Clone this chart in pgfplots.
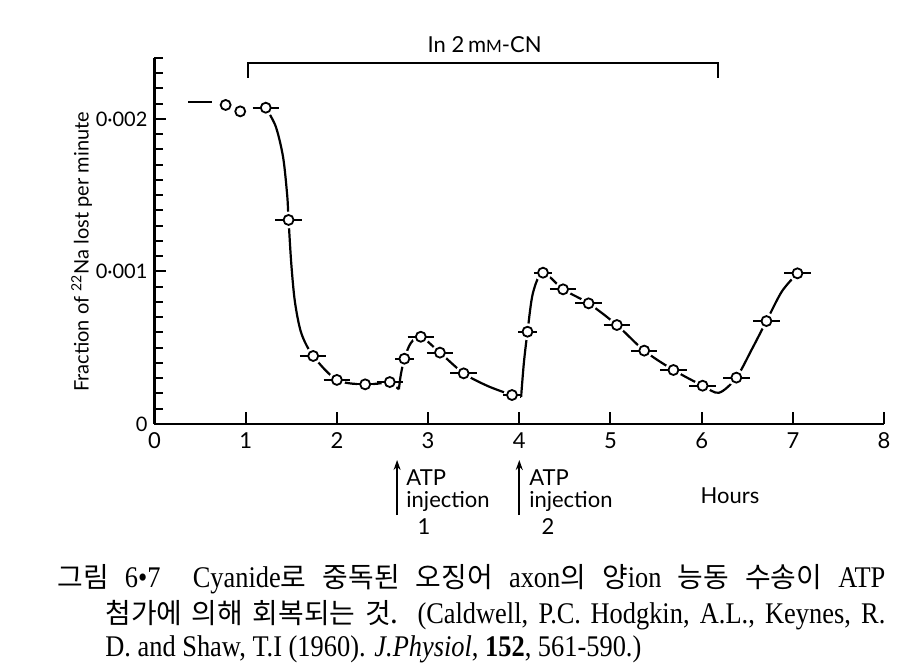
\documentclass[border=0pt]{standalone}
\usepackage{pgfplots}
\pgfplotsset{compat=1.18}
\usepackage{pgfplotstable}
\usepackage{fontspec}
\usetikzlibrary{arrows.meta}
\setmainfont{Lato}
\newfontfamily\kr[Scale=0.93]{Noto Sans CJK KR}
\newfontfamily\capserif[FakeStretch=0.88]{Liberation Serif}
% point marks: white halo (breaks the curve), horizontal bar, open circle
\pgfdeclareplotmark{circnobar}{%
  \pgfpathcircle{\pgfpointorigin}{4.2pt}\pgfsetfillcolor{white}\pgfusepath{fill}%
  \pgfpathcircle{\pgfpointorigin}{2.5pt}\pgfusepath{fill,stroke}}
\pgfdeclareplotmark{circshortbar}{%
  \pgfpathcircle{\pgfpointorigin}{4.2pt}\pgfsetfillcolor{white}\pgfusepath{fill}%
  \pgfpathmoveto{\pgfpoint{-4.6pt}{0pt}}\pgfpathlineto{\pgfpoint{4.6pt}{0pt}}\pgfusepath{stroke}%
  \pgfpathcircle{\pgfpointorigin}{2.5pt}\pgfusepath{fill,stroke}}
\pgfdeclareplotmark{circlongbar}{%
  \pgfpathcircle{\pgfpointorigin}{4.2pt}\pgfsetfillcolor{white}\pgfusepath{fill}%
  \pgfpathmoveto{\pgfpoint{-6.6pt}{0pt}}\pgfpathlineto{\pgfpoint{6.6pt}{0pt}}\pgfusepath{stroke}%
  \pgfpathcircle{\pgfpointorigin}{2.5pt}\pgfusepath{fill,stroke}}
\begin{document}
\pgfplotstableread{
x y
0.78 2.092e-3
0.94 2.050e-3
}\ptsA
\pgfplotstableread{
x y
2.74 0.428e-3
3.92 0.190e-3
4.09 0.605e-3
4.26 0.992e-3
}\ptsB
\pgfplotstableread{
x y
1.22 2.074e-3
1.47 1.338e-3
1.74 0.446e-3
2.00 0.289e-3
2.31 0.260e-3
2.58 0.275e-3
2.92 0.572e-3
3.13 0.468e-3
3.39 0.332e-3
4.48 0.883e-3
4.76 0.791e-3
5.07 0.649e-3
5.37 0.481e-3
5.69 0.354e-3
6.01 0.251e-3
6.38 0.304e-3
6.71 0.675e-3
7.05 0.988e-3
}\ptsC
\begin{tikzpicture}
\path (-77.25pt,-124pt) rectangle (380.75pt,212pt);
\begin{axis}[
  at={(0pt,0pt)}, anchor=south west,
  scale only axis, width=364.8pt, height=183pt,
  xmin=0, xmax=8, ymin=0, ymax=0.0024,
  axis lines*=left,
  axis line style={line width=1.2pt},
  clip=false,
  xtick={0,1,2,3,4,5,6,7,8},
  xticklabels={0,1,2,3,4,5,6,7,8},
  ytick={0,0.001,0.002},
  yticklabels={0,0·001,0·002},
  minor ytick={0.0001,0.0002,0.0003,0.0004,0.0005,0.0006,0.0007,0.0008,0.0009,0.0011,0.0012,0.0013,0.0014,0.0015,0.0016,0.0017,0.0018,0.0019,0.0021,0.0022,0.0023,0.0024},
  scaled y ticks=false,
  tick align=inside,
  major tick length=6pt, minor tick length=4.5pt,
  every tick/.style={line width=1pt, black},
  x tick label style={font=\fontsize{11}{13}\selectfont, yshift=-1pt},
  y tick label style={font=\fontsize{10}{12}\selectfont},
  ylabel={Fraction of \textsuperscript{22}Na lost per minute},
  ylabel style={at={(axis description cs:-0.100,0.47)}, anchor=center, font=\fontsize{10}{12}\selectfont},
  every axis plot/.append style={black},
]
% fitted curve
\addplot[line width=1.1pt] coordinates {(0.37,2.11e-3) (0.63,2.11e-3)};
\addplot[line width=1.1pt, smooth] coordinates {
 (1.22,2.074e-3) (1.33,1.95e-3) (1.41,1.75e-3) (1.455,1.50e-3) (1.47,1.338e-3)
 (1.50,1.05e-3) (1.54,0.80e-3) (1.61,0.595e-3) (1.74,0.446e-3) (2.00,0.289e-3)
 (2.31,0.260e-3) (2.58,0.275e-3)};
\addplot[line width=1.1pt] coordinates {(2.58,0.275e-3) (2.68,0.228e-3)};
\addplot[line width=1.1pt, smooth] coordinates {
 (2.68,0.228e-3) (2.70,0.32e-3) (2.74,0.428e-3) (2.81,0.53e-3) (2.92,0.572e-3)
 (3.13,0.468e-3) (3.39,0.332e-3) (3.65,0.25e-3) (3.92,0.190e-3) (4.02,0.178e-3)};
\addplot[line width=1.1pt, smooth] coordinates {
 (4.02,0.178e-3) (4.05,0.40e-3) (4.09,0.605e-3) (4.15,0.86e-3) (4.26,0.992e-3)
 (4.48,0.883e-3) (4.76,0.791e-3) (5.07,0.649e-3) (5.37,0.481e-3) (5.69,0.354e-3)
 (6.01,0.251e-3) (6.19,0.205e-3) (6.38,0.304e-3) (6.55,0.49e-3) (6.71,0.675e-3)
 (6.88,0.87e-3) (7.05,0.988e-3)};
% measured points
\addplot[only marks, mark=circnobar, mark options={fill=white, draw=black, line width=0.9pt}] table[x=x, y=y] {\ptsA};
\addplot[only marks, mark=circshortbar, mark options={fill=white, draw=black, line width=0.9pt}] table[x=x, y=y] {\ptsB};
\addplot[only marks, mark=circlongbar, mark options={fill=white, draw=black, line width=0.9pt}] table[x=x, y=y] {\ptsC};
% bracket
\draw[line width=1.1pt] (axis cs:1.025,0.002269) -- (axis cs:1.025,0.002367) -- (axis cs:6.18,0.002367) -- (axis cs:6.18,0.002269);
\node[font=\fontsize{11}{13}\selectfont] at (axis cs:3.62,0.00249) {In 2\,m{\fontsize{8.5}{10}\selectfont M}-CN};
% ATP injections
\draw[-{Stealth[length=5pt,width=3.5pt]}, line width=1pt] (axis cs:2.66,-0.000597) -- (axis cs:2.66,-0.000236);
\draw[-{Stealth[length=5pt,width=3.5pt]}, line width=1pt] (axis cs:4.00,-0.000597) -- (axis cs:4.00,-0.000236);
\node[anchor=west, inner sep=0pt, font=\fontsize{11}{13}\selectfont] at (axis cs:2.758,-0.000354) {ATP};
\node[anchor=west, inner sep=0pt, font=\fontsize{11}{13}\selectfont] at (axis cs:2.758,-0.000511) {injection};
\node[inner sep=0pt, font=\fontsize{11}{13}\selectfont] at (axis cs:2.955,-0.000675) {1};
\node[anchor=west, inner sep=0pt, font=\fontsize{11}{13}\selectfont] at (axis cs:4.105,-0.000354) {ATP};
\node[anchor=west, inner sep=0pt, font=\fontsize{11}{13}\selectfont] at (axis cs:4.105,-0.000511) {injection};
\node[inner sep=0pt, font=\fontsize{11}{13}\selectfont] at (axis cs:4.315,-0.000675) {2};
\node[inner sep=0pt, font=\fontsize{11}{13}\selectfont] at (axis cs:6.31,-0.000472) {Hours};
\end{axis}
% caption
\node[anchor=base west, inner sep=0pt, font=\capserif\fontsize{15}{17}\selectfont] at (-48.75pt,-82pt)
 {\makebox[414pt][s]{{\kr 그림} 6•7\ \ Cyanide{\kr 로} {\kr 중독된} {\kr 오징어} axon{\kr 의} {\kr 양}ion {\kr 능동} {\kr 수송이} ATP}};
\node[anchor=base west, inner sep=0pt, font=\capserif\fontsize{15}{17}\selectfont] at (-24.75pt,-100pt)
 {\makebox[390pt][s]{{\kr 첨가에} {\kr 의해} {\kr 회복되는} {\kr 것.}\ \ (Caldwell, P.C. Hodgkin, A.L., Keynes, R.}};
\node[anchor=base west, inner sep=0pt, font=\capserif\fontsize{15}{17}\selectfont] at (-24.75pt,-116.5pt)
 {D. and Shaw, T.I (1960). \textit{J.Physiol}, \textbf{152}, 561-590.)};
\end{tikzpicture}
\end{document}
